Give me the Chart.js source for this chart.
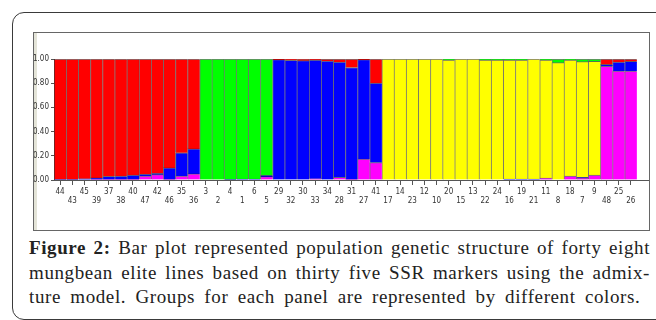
<!DOCTYPE html>
<html>
<head>
<meta charset="utf-8">
<script src="https://cdn.jsdelivr.net/npm/chart.js@4"></script>
<style>
  html, body { margin: 0; padding: 0; background: #fff; }
  body { width: 656px; height: 320px; position: relative; overflow: hidden; }
  .frame {
    position: absolute; left: 12px; top: 12px; width: 680px; height: 306px;
    border: 1.5px solid #3a3a3a; border-radius: 12px;
  }
  .plotbox {
    position: absolute; left: 33px; top: 32px; width: 615px; height: 197px;
    border: 1px solid #666; background: #fff;
    box-shadow: inset 3px 0 0 #e4e4d8;
  }
  #chart { position: absolute; left: 0; top: 0; }
  .caption {
    position: absolute; left: 29px; top: 236px; width: 621px;
    font-family: "Liberation Serif", "DejaVu Serif", serif; font-size: 19px;
    letter-spacing: 0.6px; line-height: 24.5px; color: #222;
  }
  .caption div { white-space: nowrap; }
  .caption .j { text-align: justify; text-align-last: justify; white-space: normal; }
  .caption .last { word-spacing: 4px; }
</style>
</head>
<body>
<div class="frame"></div>
<div class="plotbox"><canvas id="chart" width="615" height="197"></canvas></div>
<div class="caption">
  <div class="j"><b>Figure 2:</b> Bar plot represented population genetic structure of forty eight</div>
  <div class="j">mungbean elite lines based on thirty five SSR markers using the admix-</div>
  <div class="last">ture model. Groups for each panel are represented by different colors.</div>
</div>
<script>
// individuals in plot order
const lines = ['44','43','45','39','37','38','40','47','42','46','35','36',
  '3','2','4','1','6','5',
  '29','32','30','33','34','28','31','27','41',
  '17','14','23','12','10','20','15','13','22','24','16','19','21','11','8','18','7','9',
  '48','25','26'];

// membership per cluster, bottom to top of each bar
const magenta = [0,0,0,0.005,0.005,0.005,0.005,0.033,0.044,0.005,0.033,0.05,
  0,0,0,0,0,0.028,
  0,0,0,0.01,0,0.022,0.005,0.172,0.144,
  0,0,0,0,0,0,0,0,0,0,0,0,0,0.015,0,0.033,0.014,0.04,
  0.94,0.9,0.9];
const blue = [0.005,0.005,0.01,0.012,0.025,0.028,0.035,0.014,0.011,0.095,0.192,0.207,
  0,0,0.005,0.008,0.008,0.01,
  0.995,0.99,0.986,0.982,0.983,0.953,0.925,0.823,0.656,
  0,0,0,0,0,0,0,0,0,0,0.008,0.008,0.008,0,0,0,0.008,0,
  0.015,0.075,0.08];
const yellow = [0,0,0,0,0,0,0,0,0,0,0,0,
  0,0,0,0,0,0,
  0,0,0,0,0,0,0,0,0,
  1,1,1,1,1,0.992,1,1,0.992,0.992,0.984,0.984,0.992,0.977,0.97,0.959,0.956,0.94,
  0,0,0];
const green = [0,0,0,0,0,0,0,0,0,0,0,0,
  1,1,0.995,0.992,0.992,0.962,
  0,0,0,0,0,0,0,0,0,
  0,0,0,0,0,0.008,0,0,0.008,0.008,0.008,0.008,0,0.008,0.03,0.008,0.022,0.02,
  0,0,0];
const red = [0.995,0.995,0.99,0.983,0.97,0.967,0.96,0.953,0.945,0.9,0.775,0.743,
  0,0,0,0,0,0,
  0.005,0.01,0.014,0.008,0.017,0.025,0.07,0.005,0.2,
  0,0,0,0,0,0,0,0,0,0,0,0,0,0,0,0,0,0,
  0.045,0.025,0.02];

const yTicks = [0, 0.2, 0.4, 0.6, 0.8, 1.0];

// one empty slot at the end so the axis line runs on past the last bar
const cats = lines.concat(['']);

function ds(label, data, color) {
  return {
    label: label,
    data: data,
    backgroundColor: color,
    borderColor: 'rgba(30,30,30,0.6)',
    borderWidth: { top: 1, left: 1, right: 0, bottom: 0 },
    borderSkipped: false,
    barPercentage: 1,
    categoryPercentage: 1
  };
}

const tickFont = { family: '"Liberation Sans Narrow", "DejaVu Sans Condensed", sans-serif', size: 8 };

new Chart(document.getElementById('chart'), {
  type: 'bar',
  data: {
    labels: cats,
    datasets: [
      ds('magenta', magenta, '#ff00ff'),
      ds('blue', blue, '#0000ff'),
      ds('yellow', yellow, '#ffff00'),
      ds('green', green, '#00ff00'),
      ds('red', red, '#ff0000')
    ]
  },
  options: {
    responsive: false,
    animation: false,
    layout: { padding: { top: 26, left: 0, right: 0, bottom: 0 } },
    plugins: { legend: { display: false }, tooltip: { enabled: false } },
    scales: {
      x: {
        stacked: true,
        afterFit: s => { s.height = 50; },
        border: { color: '#555', width: 1 },
        grid: {
          drawOnChartArea: false,
          offset: false,
          tickLength: 5,
          tickColor: c => (c.index < lines.length ? '#555' : 'rgba(0,0,0,0)')
        },
        ticks: {
          autoSkip: false,
          maxRotation: 0,
          padding: 2,
          color: '#333',
          font: tickFont,
          callback: (v, i) => (i % 2 ? ['', cats[i]] : cats[i])
        }
      },
      y: {
        stacked: true,
        min: 0,
        max: 1,
        afterFit: s => { s.width = 20; },
        afterBuildTicks: s => { s.ticks = yTicks.map(v => ({ value: v })); },
        border: { color: '#555', width: 1 },
        grid: { drawOnChartArea: false, tickLength: 3, tickColor: '#555' },
        ticks: {
          padding: 2,
          color: '#333',
          font: tickFont,
          callback: v => v.toFixed(2)
        }
      }
    }
  }
});
</script>
</body>
</html>
